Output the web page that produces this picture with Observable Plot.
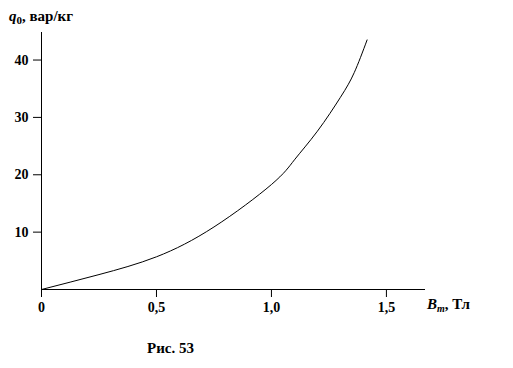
<!DOCTYPE html>
<html>
<head>
<meta charset="utf-8">
<script src="https://cdn.jsdelivr.net/npm/d3@7"></script>
<script src="https://cdn.jsdelivr.net/npm/@observablehq/plot@0.6"></script>
<style>
  html, body { margin: 0; padding: 0; background: #fff; }
  #chart { position: relative; width: 513px; }
  #caption { position: absolute; left: 147px; top: 340px; font: bold 15px "Liberation Serif", "Times New Roman", serif; color: #000; }
</style>
</head>
<body>
<div id="chart"></div>
<script>
const B = [0, 0.25, 0.5, 0.75, 1.0, 1.1, 1.2, 1.3, 1.36, 1.416];
const q = [0, 2.6, 5.7, 10.9, 18.3, 22.6, 27.6, 33.5, 37.8, 43.5];
const xTicks = [0, 0.5, 1.0, 1.5];
const yTicks = [10, 20, 30, 40];
const data = B.map((b, i) => ({B: b, q: q[i]}));

const font = '"Liberation Serif", "Times New Roman", serif';
const plot = Plot.plot({
  width: 513,
  height: 368,
  marginLeft: 41,
  marginRight: 88,
  marginTop: 32,
  marginBottom: 79,
  style: {fontFamily: font, fontSize: "14px", fontWeight: "bold", color: "#000", background: "#fff"},
  x: {domain: [0, 1.67]},
  y: {domain: [0, 44.8]},
  marks: [
    Plot.axisX({ticks: xTicks, tickSize: 8, tickPadding: 5, tickFormat: d => d.toFixed(d === 0 ? 0 : 1).replace(".", ","), label: null, fontSize: 14}),
    Plot.axisY({ticks: yTicks, tickSize: 8, tickPadding: 5, tickFormat: d => String(d), label: null, fontSize: 14}),
    Plot.ruleY([0], {stroke: "#000", strokeWidth: 1}),
    Plot.ruleX([0], {stroke: "#000", strokeWidth: 1}),
    Plot.line(data, {x: "B", y: "q", curve: "natural", stroke: "#000", strokeWidth: 1})
  ]
});
document.getElementById("chart").appendChild(plot);

const svg = d3.select(plot);
const yl = svg.append("text").attr("x", 9).attr("y", 21).attr("text-anchor", "start")
  .attr("font-family", font).attr("font-size", 15).attr("font-weight", "bold").attr("fill", "#000");
yl.append("tspan").attr("font-style", "italic").text("q");
yl.append("tspan").attr("font-size", 11).attr("dy", 3).text("0");
yl.append("tspan").attr("dy", -3).text(", вар/кг");

const xl = svg.append("text").attr("x", 427).attr("y", 309).attr("text-anchor", "start")
  .attr("font-family", font).attr("font-size", 15).attr("font-weight", "bold").attr("fill", "#000");
xl.append("tspan").attr("font-style", "italic").text("B");
xl.append("tspan").attr("font-style", "italic").attr("font-size", 10).attr("dy", 3).text("m");
xl.append("tspan").attr("dy", -3).text(", Тл");

const cap = document.createElement("div");
cap.id = "caption";
cap.textContent = "Рис. 53";
document.getElementById("chart").appendChild(cap);
</script>
</body>
</html>
